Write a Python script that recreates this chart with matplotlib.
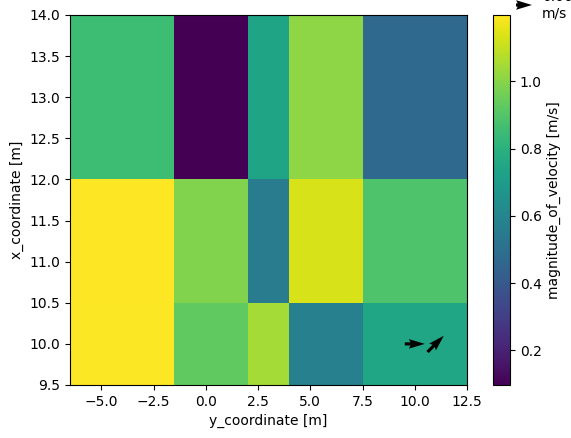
import numpy as np
import matplotlib
matplotlib.use("Agg")
import matplotlib.pyplot as plt

# Data
y_coord = [-4.0, 1.0, 3.0, 5.0, 10.0]        # horizontal axis centers
x_coord = [10.0, 11.0, 13.0]                  # vertical axis centers
magnitude = [
    [1.19, 0.93, 1.05, 0.57, 0.75],   # x=10
    [1.20, 0.99, 0.55, 1.13, 0.89],   # x=11
    [0.85, 0.10, 0.74, 1.01, 0.47],   # x=13
]
q_y = [10.0, 11.0]
q_x = [10.0, 10.0]
q_u = [0.075, 0.061]
q_v = [0.0, 0.061]
key_value = 0.06
key_label = "0.06\nm/s"

fig = plt.figure(figsize=(5.71, 4.38), dpi=100)
W, H = 571, 438
ax = fig.add_axes([70 / W, 1 - 385 / H, 397 / W, 370 / H])
cax = fig.add_axes([493 / W, 1 - 385 / H, 17 / W, 370 / H])

mesh = ax.pcolormesh(y_coord, x_coord, np.array(magnitude), shading="auto",
                     cmap="viridis", vmin=0.097, vmax=1.197)
cb = fig.colorbar(mesh, cax=cax)
cb.set_label("magnitude_of_velocity [m/s]")
cb.set_ticks([0.2, 0.4, 0.6, 0.8, 1.0])

q = ax.quiver(q_y, q_x, q_u, q_v, pivot="middle", scale_units="inches",
              scale=0.375, width=0.008, color="black")
fig_key = ax.quiverkey(q, X=532 / W, Y=1 - 5 / H, U=key_value, label=key_label,
                       labelpos="E", coordinates="figure")

ax.set_xlim(-6.5, 12.5)
ax.set_ylim(9.5, 14.0)
ax.set_xticks([-5.0, -2.5, 0.0, 2.5, 5.0, 7.5, 10.0, 12.5])
ax.set_yticks([9.5, 10.0, 10.5, 11.0, 11.5, 12.0, 12.5, 13.0, 13.5, 14.0])
ax.set_xlabel("y_coordinate [m]")
ax.set_ylabel("x_coordinate [m]")

fig.savefig("out.png", dpi=100)
